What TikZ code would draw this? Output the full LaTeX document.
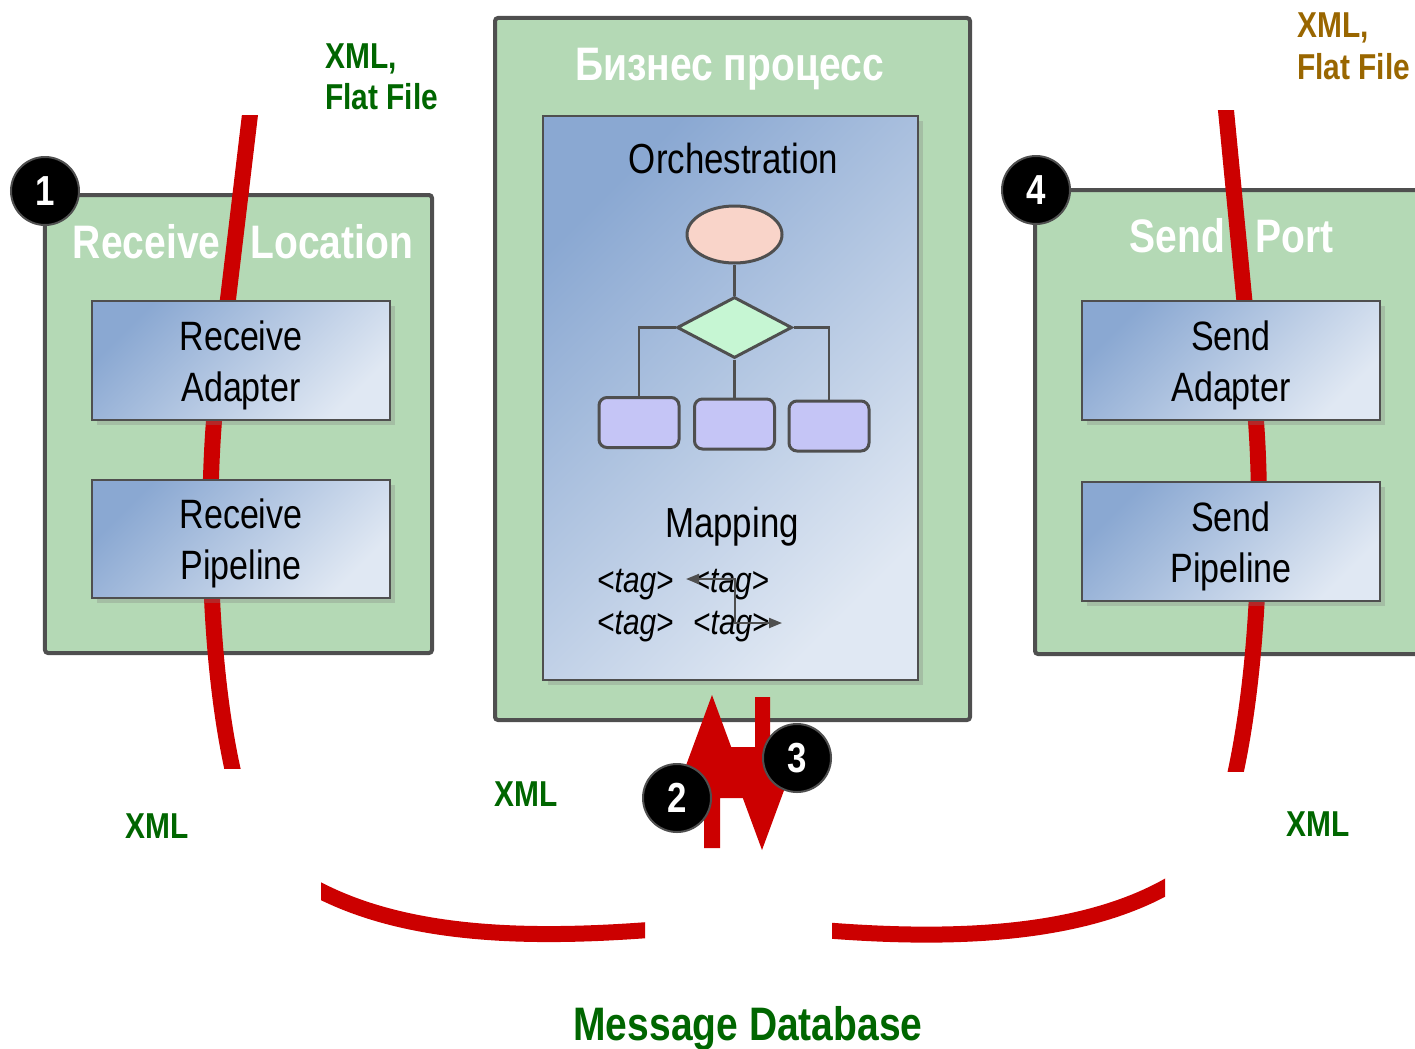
\documentclass[tikz,border=0pt]{standalone}
\usepackage{fontspec}
\setmainfont{Liberation Sans}[FakeStretch=0.83]
\usetikzlibrary{shapes.geometric,shadows,arrows.meta}
\newcommand\fsz[2]{\fontsize{#1bp}{#2bp}\selectfont}
\newcommand\toprule{\rule{0pt}{39bp}}
\definecolor{boxgreen}{HTML}{B4D9B5}
\definecolor{boxgray}{HTML}{4F4F4F}
\definecolor{blueA}{HTML}{8AA8D2}
\definecolor{blueB}{HTML}{E0E8F3}
\definecolor{redc}{HTML}{CC0000}
\definecolor{txtgreen}{HTML}{006600}
\definecolor{txtbrown}{HTML}{996600}
\definecolor{ellfill}{HTML}{F9D4C9}
\definecolor{diafill}{HTML}{C6F6D3}
\definecolor{rectfill}{HTML}{C5C5F6}
\tikzset{
  greenbox/.style={draw=boxgray, line width=4bp, fill=boxgreen, rounded corners=3bp, inner sep=0pt},
  bluebox/.style={draw=boxgray, line width=2bp, top color=blueA, bottom color=blueB, shading angle=45,
     drop shadow={shadow xshift=5bp, shadow yshift=-5bp, opacity=0.3},
     inner sep=0pt, align=center, font=\fsz{41}{51}},
  titletext/.style={text=white, font=\bfseries\fsz{47}{50}, inner sep=0pt, anchor=base},
  innertext/.style={text=black, font=\fsz{42}{48}, inner sep=0pt, anchor=base},
  tagtext/.style={text=black, font=\fsz{36}{40}, inner sep=0pt, anchor=base},
  greenlbl/.style={text=txtgreen, font=\bfseries\fsz{36}{41}, inner sep=0pt, align=left},
  brownlbl/.style={text=txtbrown, font=\bfseries\fsz{36}{42}, inner sep=0pt, align=left},
  badge/.style={circle, fill=black, draw=boxgray, line width=2bp, minimum size=68bp, inner sep=0pt,
     text=white, font=\bfseries\fsz{42}{42}},
  redline/.style={draw=redc, line width=16bp},
  flowline/.style={draw=boxgray, line width=2.5bp},
  mapline/.style={draw=boxgray, line width=2bp},
}
\begin{document}
\begin{tikzpicture}[x=1bp, y=-1bp]
\useasboundingbox (0,0) rectangle (1415,1048);

% green containers
\node[greenbox, minimum width=387bp, minimum height=458bp] (rl) at (238.5,424) {};
\node[greenbox, minimum width=475bp, minimum height=702bp] (bp) at (732.5,369) {};
\node[greenbox, minimum width=395bp, minimum height=464bp] (sp) at (1232.5,422) {};

% red flow lines (under the blue boxes)
\begin{scope}
  \clip (0,115) rectangle (700,768);
  \draw[redline] (251.5,102) -- (216,400) .. controls (208,470) and (204,650) .. (235,780);
\end{scope}
\begin{scope}
  \clip (900,110) rectangle (1415,771);
  \draw[redline] (1224.7,97) -- (1254,400) .. controls (1262,470) and (1264,650) .. (1233,784);
\end{scope}
\begin{scope}
  \clip (321,850) rectangle (645,980);
  \draw[redline] (311,886) .. controls (400,935) and (520,940) .. (655,929.5);
\end{scope}
\begin{scope}
  \clip (832,850) rectangle (1165,980);
  \draw[redline] (822,930) .. controls (957,941) and (1087,935) .. (1175,882);
\end{scope}

% receive location
\node[bluebox, minimum width=298bp, minimum height=119bp] (ra) at (241,360.5) {\toprule Receive\\Adapter};
\node[bluebox, minimum width=298bp, minimum height=118bp] (rp) at (241,539) {\toprule Receive\\Pipeline};
\node[titletext] (rlt) at (243,258) {Receive\hspace{30bp}Location};

% send port
\node[bluebox, minimum width=298bp, minimum height=119bp] (sa) at (1231,360.5) {\toprule Send\\Adapter};
\node[bluebox, minimum width=298bp, minimum height=119bp] (spp) at (1231,541.5) {\toprule Send\\Pipeline};
\node[titletext] (spt) at (1231.5,252) {Send\hspace{30bp}Port};

% business process
\node[titletext] (bpt) at (729.5,80) {Бизнес процесс};
\node[bluebox, minimum width=375bp, minimum height=564bp] (orch) at (730.5,398) {};
\node[innertext] (orcht) at (733.5,173) {Orchestration};
\node[ellipse, draw=boxgray, line width=3bp, fill=ellfill, minimum width=95bp, minimum height=57bp, inner sep=0pt] (ell) at (734.5,234.5) {};
\node[diamond, draw=boxgray, line width=3bp, fill=diafill, minimum width=115bp, minimum height=61bp, inner sep=0pt] (dia) at (734.5,327.5) {};
\node[draw=boxgray, line width=3bp, fill=rectfill, rounded corners=8bp, minimum width=80bp, minimum height=50bp] (r1) at (639,422.5) {};
\node[draw=boxgray, line width=3bp, fill=rectfill, rounded corners=8bp, minimum width=80bp, minimum height=50bp] (r2) at (734.5,424) {};
\node[draw=boxgray, line width=3bp, fill=rectfill, rounded corners=8bp, minimum width=80bp, minimum height=50bp] (r3) at (829,426) {};
\draw[flowline] (ell.south) -- (dia.north);
\draw[flowline] (dia.west) -| (r1.north);
\draw[flowline] (dia.east) -| (r3.north);
\draw[flowline] (dia.south) -- (r2.north);

\node[innertext] (mapt) at (732,537) {Mapping};
\node[tagtext] (t1) at (635.5,592) {<\textit{tag}>};
\node[tagtext] (t2) at (731,592) {<\textit{tag}>};
\node[tagtext] (t3) at (635.5,634) {<\textit{tag}>};
\node[tagtext] (t4) at (731.5,634) {<\textit{tag}>};
\coordinate (ma) at (686,579);
\coordinate (mb) at (735,579);
\coordinate (mc) at (735,623);
\coordinate (md) at (782,623);
\draw[mapline, {Triangle[length=13bp,width=10bp]}-{Triangle[length=13bp,width=10bp]}] (ma) -- (mb) -- (mc) -- (md);

% red up/down arrows
\fill[redc] (704,848) -- (704,798) -- (674,798) -- (712,695) -- (750,798) -- (720,798) -- (720,848) -- cycle;
\fill[redc] (755,697) -- (770,697) -- (770,747) -- (800,747) -- (762,850) -- (724,747) -- (755,747) -- cycle;

% badges
\node[badge] (b1) at (45,191) {1};
\node[badge] (b4) at (1036,190) {4};
\node[badge] (b2) at (677,798) {2};
\node[badge] (b3) at (797,758) {3};

% labels
\node[greenlbl, anchor=north west] (l1) at (325,43.5) {XML,\\Flat File};
\node[brownlbl, anchor=north west] (l2) at (1297,12.5) {XML,\\Flat File};
\node[greenlbl, anchor=base west] (x1) at (125,838) {XML};
\node[greenlbl, anchor=base west] (x2) at (494,806) {XML};
\node[greenlbl, anchor=base west] (x3) at (1286,836) {XML};
\node[text=txtgreen, font=\bfseries\fsz{47}{50}, inner sep=0pt, anchor=base] (mdb) at (748,1040) {Message Database};
\end{tikzpicture}
\end{document}
